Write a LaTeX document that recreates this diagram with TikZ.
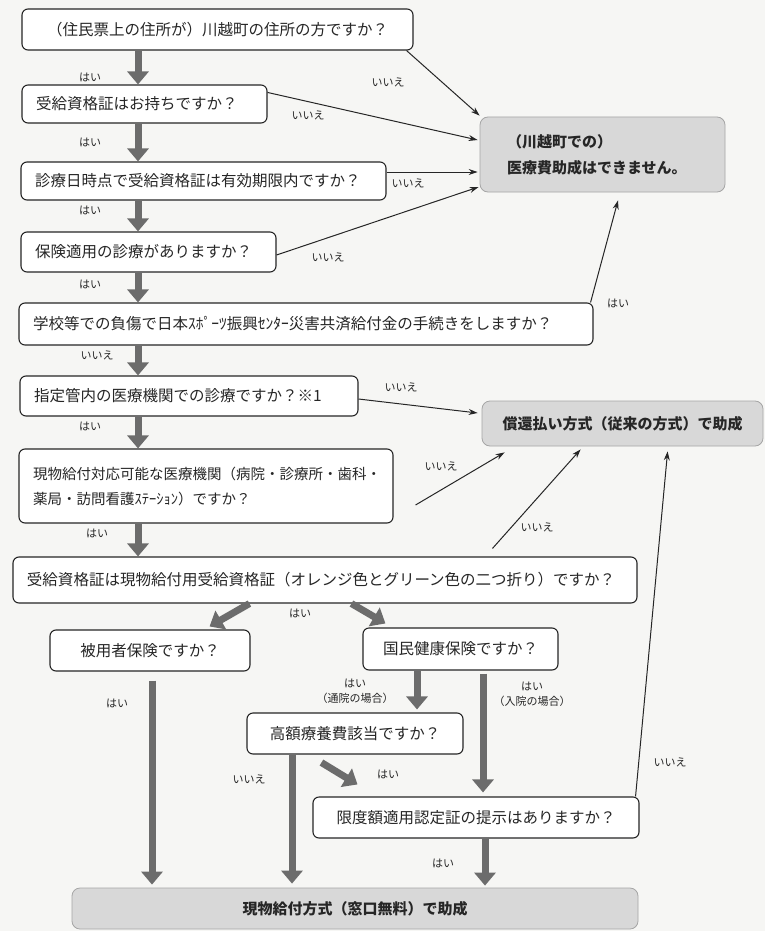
\documentclass[tikz,border=0pt]{standalone}
\usepackage{fontspec}
\newfontfamily\jp{Noto Sans CJK JP}
\usetikzlibrary{arrows.meta,calc}
\definecolor{bg}{HTML}{F6F6F4}
\definecolor{arr}{HTML}{6C6C6C}
\definecolor{gfill}{HTML}{D8D8D8}
\definecolor{gline}{HTML}{A5A5A5}
\definecolor{ink}{HTML}{262626}
\tikzset{
  qbox/.style={draw=ink, line width=1.1pt, rounded corners=6pt, fill=white, inner sep=0pt, text=ink,
    font=\jp\fontsize{15.5}{19}\selectfont},
  qleft/.style={qbox, align=left, inner xsep=14pt},
  gbox/.style={draw=gline, line width=0.8pt, rounded corners=8pt, fill=gfill, inner sep=0pt, text=ink,
    font=\jp\bfseries\fontsize{15}{26}\selectfont},
  lbl/.style={font=\jp\fontsize{11}{15}\selectfont, text=ink, inner sep=0pt, align=center},
  fat/.style={draw=arr, line width=7pt, -{Triangle[width=21pt,length=13pt]}},
  thinarr/.style={draw=ink, line width=1pt, -{Stealth[length=9pt,width=6pt]}}
}
\begin{document}
\begin{tikzpicture}[x=1pt,y=-1pt]
\fill[bg] (0,0) rectangle (765,931);
\useasboundingbox (0,0) rectangle (765,931);

% question boxes
\node[qbox, align=left, inner xsep=25pt, text width=341pt, minimum height=41pt] (b1) at (217.5,29.5) {（住民票上の住所が）川越町の住所の方ですか？};
\node[qleft, text width=217pt, minimum height=38pt] (b2) at (144.5,104) {受給資格証はお持ちですか？};
\node[qleft, text width=337pt, minimum height=38pt] (b3) at (203.5,181) {診療日時点で受給資格証は有効期限内ですか？};
\node[qleft, text width=227pt, minimum height=40pt] (b4) at (148.5,252) {保険適用の診療がありますか？};
\node[qleft, text width=546pt, minimum height=42pt] (b5) at (306,324) {学校等での負傷で日本ｽﾎﾟｰﾂ振興ｾﾝﾀｰ災害共済給付金の手続きをしますか？};
\node[qleft, text width=310pt, minimum height=40pt] (b6) at (189,396) {指定管内の医療機関での診療ですか？※1};
\node[qleft, text width=346pt, minimum height=74pt, font=\jp\fontsize{14.5}{25}\selectfont] (b7) at (206,486) {現物給付対応可能な医療機関（病院・診療所・歯科・\\薬局・訪問看護ｽﾃｰｼｮﾝ）ですか？};
\node[qleft, text width=596pt, minimum height=46pt] (b8) at (325,580) {受給資格証は現物給付用受給資格証（オレンジ色とグリーン色の二つ折り）ですか？};
\node[qbox, minimum width=200pt, minimum height=41pt] (b9) at (150,650.5) {被用者保険ですか？};
\node[qbox, minimum width=195pt, minimum height=42pt] (b10) at (460.5,649) {国民健康保険ですか？};
\node[qbox, minimum width=216pt, minimum height=41pt] (b11) at (355,733.5) {高額療養費該当ですか？};
\node[qbox, minimum width=326pt, minimum height=41pt] (b12) at (476,817.5) {限度額適用認定証の提示はありますか？};

% result boxes
\node[gbox, align=left, inner xsep=27pt, text width=191pt, minimum height=75pt] (gA) at (602.5,154.5) {（川越町での）\\医療費助成はできません。};
\node[gbox, minimum width=281pt, minimum height=45pt] (gB) at (622.5,423.5) {償還払い方式（従来の方式）で助成};
\node[gbox, minimum width=566pt, minimum height=41pt] (fin) at (355,908.5) {現物給付方式（窓口無料）で助成};

% column coordinates
\coordinate (cx) at (138,0);
\coordinate (c152) at (152,0);
\coordinate (c292) at (292,0);
\coordinate (c417) at (417,0);
\coordinate (c483) at (483,0);
\coordinate (c485) at (485,0);

% thick arrows, left column
\draw[fat] (b1.south -| cx) -- (b2.north -| cx);
\draw[fat] (b2.south -| cx) -- (b3.north -| cx);
\draw[fat] (b3.south -| cx) -- (b4.north -| cx);
\draw[fat] (b4.south -| cx) -- (b5.north -| cx);
\draw[fat] (b5.south -| cx) -- (b6.north -| cx);
\draw[fat] (b6.south -| cx) -- (b7.north -| cx);
\draw[fat] (b7.south -| cx) -- (b8.north -| cx);

% thick arrows, lower part
\draw[fat] ($(b8.south west)+(237,0)$) -- ($(b9.north east)+(-41,-3)$);
\draw[fat] ($(b8.south west)+(339,0)$) -- ($(b10.north west)+(23,-4)$);
\draw[fat, shorten <=9pt, shorten >=3pt] (b9.south -| c152) -- (fin.north -| c152);
\draw[fat, shorten >=3pt] (b10.south -| c417) -- (b11.north -| c417);
\draw[fat, shorten <=3pt, shorten >=4pt] (b10.south -| c483) -- (b12.north -| c483);
\draw[fat, shorten >=4pt] (b11.south -| c292) -- (fin.north -| c292);
\draw[fat] ($(b11.south west)+(75,8)$) -- ($(b12.north west)+(45,-12)$);
\draw[fat, shorten >=2pt] (b12.south -| c485) -- (fin.north -| c485);

% thin arrows
\draw[thinarr] ($(b1.south east)+(-7,0)$) -- ($(gA.north west)+(0,-1)$);
\draw[thinarr] ($(b2.north east)+(0,8)$) -- ($(gA.west)+(-2,-14.5)$);
\draw[thinarr] ($(b3.east)+(0,-9)$) -- ($(gA.west)+(-2,17.5)$);
\draw[thinarr] ($(b4.east)+(0,3)$) -- ($(gA.west)+(-1,32.5)$);
\draw[thinarr] ($(b5.north east)+(-3,0)$) -- ($(gA.south)+(15.5,8)$);
\draw[thinarr] ($(b6.east)+(0,3)$) -- ($(gB.west)+(-4,-10.5)$);
\draw[thinarr] ($(b7.east)+(22,19)$) -- ($(gB.south west)+(23,6)$);
\draw[thinarr] ($(b8.north west)+(480,-8)$) -- ($(gB.south west)+(99,3)$);
\draw[thinarr] ($(b12.north east)+(-4,0)$) -- ($(gB.south west)+(186,5)$);

% labels
\node[lbl] (l1) at (90,77) {はい};
\node[lbl] (l2) at (90,142) {はい};
\node[lbl] (l3) at (90,210) {はい};
\node[lbl] (l4) at (90,284) {はい};
\node[lbl] (l5) at (97,355) {いいえ};
\node[lbl] (l6) at (90,426) {はい};
\node[lbl] (l7) at (97,533) {はい};
\node[lbl] (n1) at (388,82) {いいえ};
\node[lbl] (n2) at (308,115) {いいえ};
\node[lbl] (n3) at (408,183) {いいえ};
\node[lbl] (n4) at (328,257) {いいえ};
\node[lbl] (y5) at (618,303) {はい};
\node[lbl] (n6) at (401,387) {いいえ};
\node[lbl] (n7) at (441,466) {いいえ};
\node[lbl] (n8) at (537,527) {いいえ};
\node[lbl] (n9) at (670,762) {いいえ};
\node[lbl] (y8) at (300,613) {はい};
\node[lbl] (y9) at (117,703) {はい};
\node[lbl] (y10a) at (355,691) {はい\\（通院の場合）};
\node[lbl] (y10b) at (532,694) {はい\\（入院の場合）};
\node[lbl] (n11) at (249,779) {いいえ};
\node[lbl] (y11) at (388,774) {はい};
\node[lbl] (y12) at (443,863) {はい};
\end{tikzpicture}
\end{document}
